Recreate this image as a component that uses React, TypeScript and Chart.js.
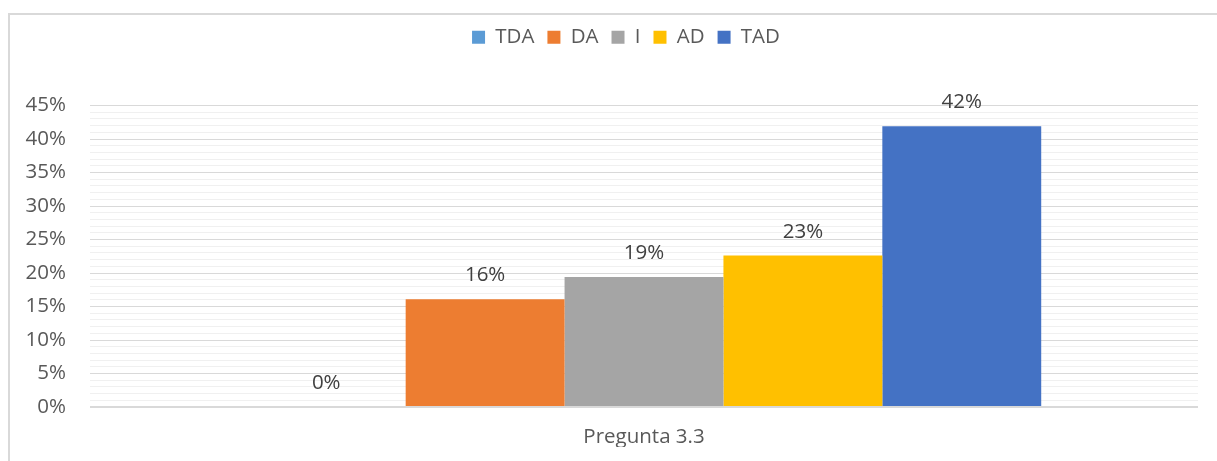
import React, { useEffect, useRef } from "react";
import { Chart, registerables } from "chart.js";

Chart.register(...registerables);

const categories = ["Pregunta 3.3"];
const seriesNames = ["TDA", "DA", "I", "AD", "TAD"];
const seriesValues = [0, 16.1, 19.4, 22.6, 41.9];
const seriesColors = ["#5B9BD5", "#ED7D31", "#A5A5A5", "#FFC000", "#4472C4"];
const yTickLabels = ["0%", "5%", "10%", "15%", "20%", "25%", "30%", "35%", "40%", "45%"];

const FONT = "'Open Sans', 'Noto Sans', sans-serif";
const FS = 20.5;

const frame = {
  id: "frame",
  beforeDraw(chart: any) {
    const ctx = chart.ctx;
    ctx.save();
    ctx.fillStyle = "#ffffff";
    ctx.fillRect(0, 0, chart.width, chart.height);
    ctx.strokeStyle = "#d9d9d9";
    ctx.lineWidth = 2;
    ctx.beginPath();
    ctx.moveTo(9, chart.height);
    ctx.lineTo(9, 14);
    ctx.lineTo(chart.width, 14);
    ctx.stroke();
    ctx.restore();
  },
};

const legendSpacer = {
  id: "legendSpacer",
  beforeInit(chart: any) {
    const fit = chart.legend.fit;
    chart.legend.fit = function () {
      fit.bind(chart.legend)();
      this.height += 48;
    };
  },
  afterLayout(chart: any) {
    chart.legend.left += 27;
    chart.legend.right += 27;
  },
};

const dataLabels = {
  id: "dataLabels",
  afterDatasetsDraw(chart: any) {
    const ctx = chart.ctx;
    ctx.save();
    ctx.font = `${FS}px ${FONT}`;
    ctx.fillStyle = "#404040";
    ctx.textAlign = "center";
    ctx.textBaseline = "alphabetic";
    chart.data.datasets.forEach((ds: any, i: number) => {
      const meta = chart.getDatasetMeta(i);
      meta.data.forEach((bar: any, j: number) => {
        const v = ds.data[j];
        ctx.fillText(Math.round(v) + "%", bar.x, bar.y - 18);
      });
    });
    ctx.restore();
  },
};

export default function App() {
  const ref = useRef<HTMLCanvasElement>(null);
  useEffect(() => {
    if (!ref.current) return;
    const chart = new Chart(ref.current, {
      type: "bar",
      data: {
        labels: categories,
        datasets: seriesNames.map((name, i) => ({
          label: name,
          data: [seriesValues[i]],
          backgroundColor: seriesColors[i],
          borderWidth: 0,
          barPercentage: 1,
          categoryPercentage: 0.717,
        })),
      },
      options: {
        responsive: false,
        animation: false,
        layout: { padding: { top: 14, right: 19, bottom: 14, left: 0 } },
        plugins: {
          legend: {
            position: "top",
            labels: {
              boxWidth: 13,
              boxHeight: 13,
              padding: 13,
              color: "#595959",
              font: { family: FONT, size: FS },
            },
          },
          tooltip: { enabled: false },
        },
        scales: {
          x: {
            afterFit(scale: any) {
              scale.height = 40;
            },
            grid: { display: false, drawTicks: false },
            border: { display: false },
            ticks: {
              color: "#595959",
              padding: 18,
              font: { family: FONT, size: FS },
            },
          },
          y: {
            min: 0,
            max: 45,
            afterFit(scale: any) {
              scale.width = 90;
            },
            border: { display: false },
            grid: {
              drawTicks: false,
              color: (c: any) => (c.tick && c.tick.value % 5 === 0 ? "#d9d9d9" : "#f0f0f0"),
              lineWidth: (c: any) => (c.tick && c.tick.value === 0 ? 2 : 1),
            },
            ticks: {
              stepSize: 1,
              autoSkip: false,
              padding: 24,
              color: "#595959",
              font: { family: FONT, size: FS },
              callback: (v: any) => (Number(v) % 5 === 0 ? yTickLabels[Number(v) / 5] : ""),
            },
          },
        },
      },
      plugins: [frame, legendSpacer, dataLabels],
    });
    return () => chart.destroy();
  }, []);
  return (
    <div style={{ position: "absolute", left: 0, top: 0, width: 1217, height: 461 }}>
      <canvas ref={ref} width={1217} height={461} style={{ display: "block" }} />
    </div>
  );
}
